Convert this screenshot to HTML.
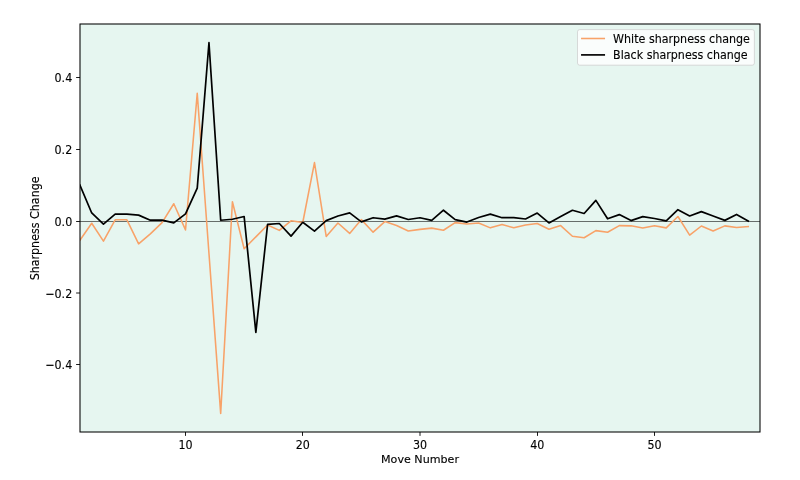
<!DOCTYPE html>
<html lang="en"><head><meta charset="utf-8"><title>Sharpness Change by Move Number</title>
<style>
html,body{margin:0;padding:0;background:#ffffff;}
body{width:800px;height:480px;overflow:hidden;}
svg{display:block;}
text{font-family:"DejaVu Sans","Liberation Sans",sans-serif;font-size:11.11px;fill:#000000;stroke:#000000;stroke-width:0.12;}
</style></head><body>
<svg width="800" height="480" viewBox="0 0 800 480" role="img" aria-label="Sharpness change by move number">
<rect x="0" y="0" width="800" height="480" fill="#ffffff"/>
<rect x="80" y="24" width="680" height="408" fill="#e6f6f0"/>
<line x1="80" y1="221.5" x2="760" y2="221.5" stroke="#000000" stroke-width="0.56"/>
<clipPath id="axclip"><rect x="80" y="24" width="680" height="408"/></clipPath>
<g fill="none" stroke-linejoin="round" stroke-linecap="square" clip-path="url(#axclip)">
<polyline points="80.00,240.09 91.72,223.24 103.45,241.13 115.17,219.84 126.90,219.84 138.62,243.85 150.34,233.85 162.07,222.63 173.79,203.78 185.52,229.94 197.24,93.39 208.97,253.46 220.69,413.41 232.41,201.81 244.14,248.73 255.86,236.86 267.59,225.00 279.31,230.41 291.03,220.84 302.76,222.49 314.48,162.60 326.21,236.40 337.93,222.99 349.66,233.39 361.38,219.62 373.10,232.17 384.83,221.56 396.55,225.43 408.28,230.95 420.00,229.37 431.72,228.12 443.45,230.27 455.17,222.63 466.90,224.00 478.62,222.99 490.34,227.87 502.07,224.60 513.79,227.76 525.52,224.96 537.24,223.49 548.97,229.30 560.69,225.61 572.41,236.25 584.14,237.76 595.86,230.63 607.59,232.24 619.31,225.61 631.03,225.86 642.76,228.01 654.48,225.86 666.21,227.87 677.93,216.47 689.66,235.18 701.38,226.00 713.10,230.95 724.83,225.86 736.55,227.58 748.28,226.58" stroke="#f8a268" stroke-width="1.55"/>
<polyline points="80.00,185.22 91.72,212.96 103.45,224.21 115.17,214.21 126.90,214.21 138.62,215.11 150.34,220.20 162.07,220.05 173.79,222.88 185.52,213.89 197.24,188.12 208.97,42.72 220.69,220.27 232.41,219.23 244.14,216.54 255.86,332.30 267.59,224.39 279.31,223.49 291.03,236.11 302.76,222.28 314.48,231.16 326.21,220.63 337.93,216.00 349.66,212.89 361.38,221.92 373.10,217.72 384.83,219.12 396.55,215.86 408.28,219.52 420.00,217.72 431.72,220.38 443.45,210.23 455.17,219.69 466.90,222.06 478.62,217.47 490.34,214.10 502.07,217.72 513.79,217.72 525.52,218.98 537.24,213.10 548.97,222.92 560.69,216.54 572.41,210.23 584.14,213.49 595.86,200.41 607.59,218.76 619.31,214.61 631.03,220.59 642.76,216.61 654.48,218.51 666.21,220.84 677.93,209.73 689.66,216.00 701.38,211.63 713.10,216.00 724.83,220.38 736.55,214.39 748.28,221.06" stroke="#000000" stroke-width="1.7"/>
</g>
<g stroke="#000000" stroke-width="0.9">
<line x1="185.50" y1="432" x2="185.50" y2="435.89"/>
<line x1="302.50" y1="432" x2="302.50" y2="435.89"/>
<line x1="420.00" y1="432" x2="420.00" y2="435.89"/>
<line x1="537.50" y1="432" x2="537.50" y2="435.89"/>
<line x1="654.50" y1="432" x2="654.50" y2="435.89"/>
<line x1="76.11" y1="77.50" x2="80" y2="77.50"/>
<line x1="76.11" y1="149.50" x2="80" y2="149.50"/>
<line x1="76.11" y1="221.50" x2="80" y2="221.50"/>
<line x1="76.11" y1="293.00" x2="80" y2="293.00"/>
<line x1="76.11" y1="364.50" x2="80" y2="364.50"/>
</g>
<rect x="80" y="24" width="680" height="408" fill="none" stroke="#000000" stroke-width="1.05"/>
<text transform="translate(185.52,449.00) scale(1,1.09)" text-anchor="middle">10</text>
<text transform="translate(302.76,449.00) scale(1,1.09)" text-anchor="middle">20</text>
<text transform="translate(420.00,449.00) scale(1,1.09)" text-anchor="middle">30</text>
<text transform="translate(537.24,449.00) scale(1,1.09)" text-anchor="middle">40</text>
<text transform="translate(654.48,449.00) scale(1,1.09)" text-anchor="middle">50</text>
<text transform="translate(72.20,82.00) scale(1,1.09)" text-anchor="end">0.4</text>
<text transform="translate(72.20,154.00) scale(1,1.09)" text-anchor="end">0.2</text>
<text transform="translate(72.20,226.00) scale(1,1.09)" text-anchor="end">0.0</text>
<text transform="translate(72.20,298.00) scale(1,1.09)" text-anchor="end">−0.2</text>
<text transform="translate(72.20,369.00) scale(1,1.09)" text-anchor="end">−0.4</text>
<text transform="translate(420.00,463.00) scale(1,1.02)" text-anchor="middle">Move Number</text>
<text transform="translate(38.80,228.40) rotate(-90) scale(1,1.05)" text-anchor="middle">Sharpness Change</text>
<rect x="577.5" y="29.6" width="176.9" height="35.6" rx="2.2" ry="2.2" fill="#ffffff" fill-opacity="0.8" stroke="#cccccc" stroke-opacity="0.8" stroke-width="0.9"/>
<line x1="581.05" y1="38.5" x2="605.05" y2="38.5" stroke="#f8a268" stroke-width="1.55"/>
<line x1="581.05" y1="54.9" x2="605.05" y2="54.9" stroke="#000000" stroke-width="1.67"/>
<text transform="translate(613.10,43.00) scale(1,1.05)">White sharpness change</text>
<text transform="translate(613.10,59.00) scale(1,1.05)">Black sharpness change</text>
</svg>
</body></html>
